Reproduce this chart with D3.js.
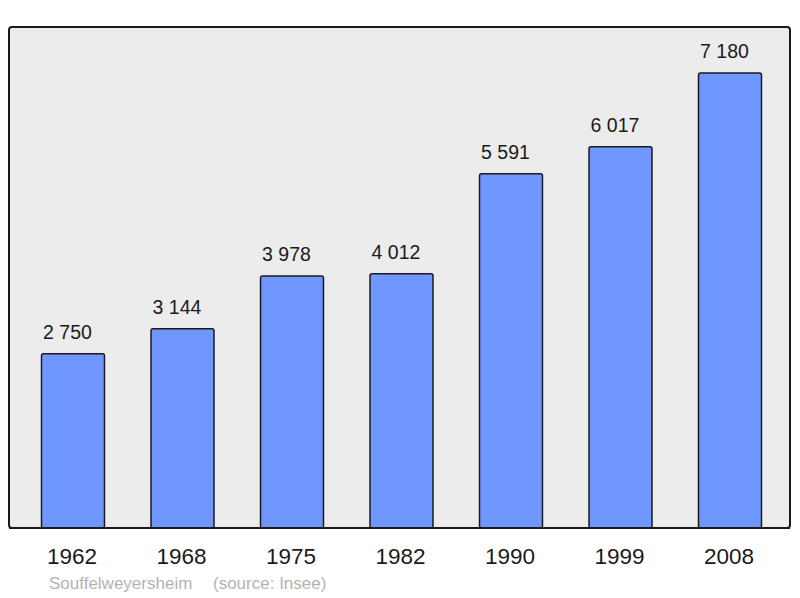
<!DOCTYPE html>
<html>
<head>
<meta charset="utf-8">
<script src="https://cdn.jsdelivr.net/npm/d3@7"></script>
<style>
  html, body { margin: 0; padding: 0; background: #ffffff; }
  svg { display: block; }
</style>
</head>
<body>
<svg id="chart" width="800" height="598"></svg>
<script>
const years = ["1962", "1968", "1975", "1982", "1990", "1999", "2008"];
const population = [2750, 3144, 3978, 4012, 5591, 6017, 7180];
const labels = ["2 750", "3 144", "3 978", "4 012", "5 591", "6 017", "7 180"];
const footerName = "Souffelweyersheim";
const footerSource = "(source: Insee)";

const svg = d3.select("#chart");
const font = "'Liberation Sans', Arial, sans-serif";

const panel = { x: 9, y: 27, w: 781, h: 501 };

svg.append("rect")
  .attr("x", panel.x).attr("y", panel.y)
  .attr("width", panel.w).attr("height", panel.h)
  .attr("rx", 3).attr("ry", 3)
  .attr("fill", "#ececec")
  .attr("stroke", "#1a1a1a")
  .attr("stroke-width", 2);

const x = d3.scaleBand()
  .domain(years)
  .range([18.25, 784.75])
  .paddingInner(0.425)
  .paddingOuter(0.2125);

const y = d3.scaleLinear()
  .domain([0, 7906])
  .range([panel.y + panel.h, panel.y]);

const data = years.map((yr, i) => ({ year: yr, value: population[i], label: labels[i] }));

svg.append("g").selectAll("rect")
  .data(data)
  .join("rect")
  .attr("x", d => x(d.year))
  .attr("y", d => y(d.value))
  .attr("width", x.bandwidth())
  .attr("height", d => y(0) - y(d.value))
  .attr("rx", 2).attr("ry", 2)
  .attr("fill", "#7096ff")
  .attr("stroke", "#1a1a1a")
  .attr("stroke-width", 1.5);

svg.append("g").selectAll("text")
  .data(data)
  .join("text")
  .attr("x", d => x(d.year) + x.bandwidth() / 2 - 5.5)
  .attr("y", d => y(d.value) - 15)
  .attr("text-anchor", "middle")
  .attr("font-family", font)
  .attr("font-size", "19.5px")
  .attr("fill", "#1a1a1a")
  .text(d => d.label);

svg.append("line")
  .attr("x1", panel.x).attr("x2", panel.x + panel.w)
  .attr("y1", panel.y + panel.h).attr("y2", panel.y + panel.h)
  .attr("stroke", "#1a1a1a").attr("stroke-width", 2);

const xAxis = svg.append("g")
  .attr("transform", `translate(0,${panel.y + panel.h})`)
  .call(d3.axisBottom(x).tickSize(0).tickPadding(0));
xAxis.select(".domain").remove();
xAxis.selectAll("text")
  .attr("x", -1)
  .attr("y", 36)
  .attr("dy", 0)
  .attr("font-family", font)
  .attr("font-size", "22.5px")
  .attr("fill", "#1a1a1a");

svg.append("text")
  .attr("x", 49).attr("y", 589)
  .attr("font-family", font)
  .attr("font-size", "17px")
  .attr("fill", "#b3b3b3")
  .text(footerName);

svg.append("text")
  .attr("x", 213).attr("y", 589)
  .attr("font-family", font)
  .attr("font-size", "17px")
  .attr("fill", "#b3b3b3")
  .text(footerSource);
</script>
</body>
</html>
